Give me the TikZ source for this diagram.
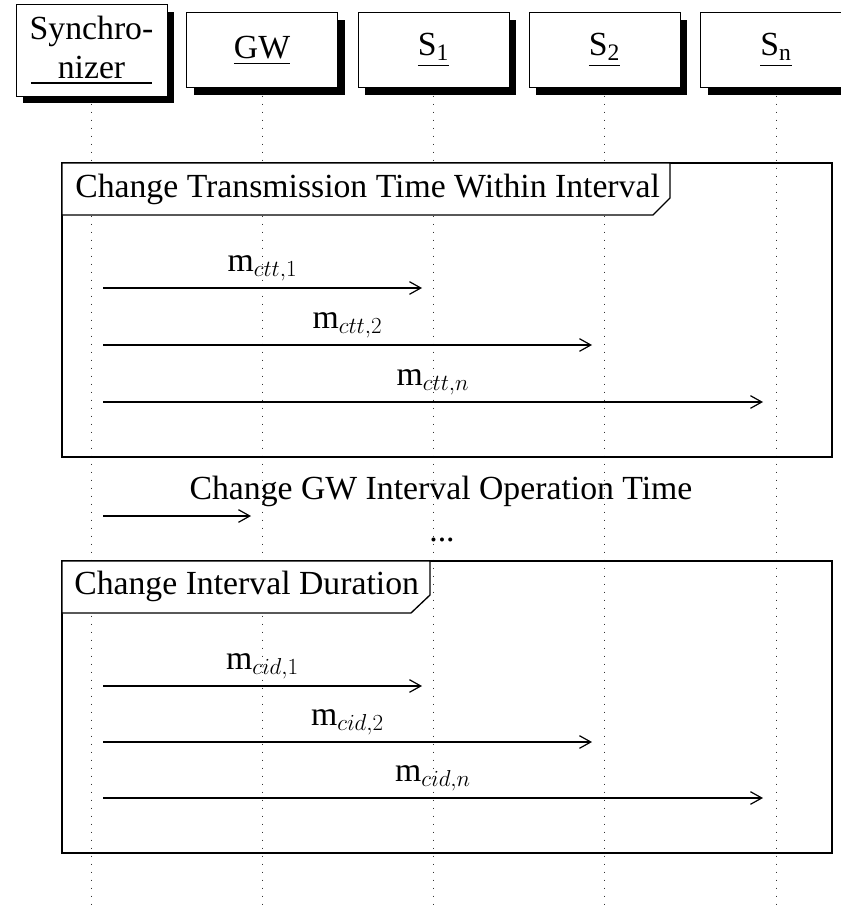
\documentclass[tikz,border=0pt]{standalone}
\usepackage{amsmath}
\usepackage{fontspec}
\setmainfont{Liberation Serif}
\usetikzlibrary{shadows,arrows.meta}

\tikzset{
  inst/.style={draw, fill=white, line width=0.75pt, minimum width=113.25pt, minimum height=56.25pt, align=center,
    drop shadow={shadow xshift=5.25pt, shadow yshift=-5.25pt, fill=black, opacity=1}},
  lifeline/.style={line width=0.6pt, dash pattern=on 0.6pt off 5.4pt, black!80},
  msg/.style={-{Straight Barb[length=8.5pt,width=9.5pt]}, line width=0.9pt},
  fragment/.style={line width=1pt},
}

\begin{document}
\begin{tikzpicture}[x=0.75pt,y=0.75pt,yscale=-1,xscale=1,font=\fontsize{25.3}{29}\selectfont]
    \useasboundingbox (0,0) rectangle (841,906);

    % Instances
    \node [inst, minimum height=68.25pt] (sync) at (91.5,50.5) {Synchro-\\\underline{\hbox to 91pt{\hfil nizer\hfil}}};
    \node [inst] (gw) at (262,50.5) {\underline{GW}};
    \node [inst] (s1) at (433.5,50.5) {\underline{S\textsubscript{1}}};
    \node [inst] (s2) at (604.5,50.5) {\underline{S\textsubscript{2}}};
    \node [inst] (sn) at (776,50.5) {\underline{S\textsubscript{n}}};

    % Lifelines
    \foreach \who in {sync,gw,s1,s2,sn}
      \draw [lifeline] (\who.south) ++(0,7) -- (\who.south |- 0,906);

    % Fragment: Change Transmission Time Within Interval
    \draw [fragment] (62,163) rectangle (832,457);
    \draw [fragment, fill=white] (62,163) -- (670,163) -- (670,198) -- (653,215) -- (62,215) -- cycle;
    \node [anchor=west, inner sep=0.75pt] (ctt) at (74,189) {Change Transmission Time Within Interval};

    \coordinate (ctt1a) at (103,288);  \coordinate (ctt1b) at (422,288);
    \coordinate (ctt2a) at (103,345);  \coordinate (ctt2b) at (592,345);
    \coordinate (cttna) at (103,402);  \coordinate (cttnb) at (763,402);
    \draw [msg] (ctt1a) -- node [above=4pt, inner sep=0.75pt] (lctt1) {m$_{ctt,1}$} (ctt1b);
    \draw [msg] (ctt2a) -- node [above=4pt, inner sep=0.75pt] (lctt2) {m$_{ctt,2}$} (ctt2b);
    \draw [msg] (cttna) -- node [above=4pt, inner sep=0.75pt] (lcttn) {m$_{ctt,n}$} (cttnb);

    % Change GW Interval Operation Time
    \node [inner sep=0.75pt] (gwop) at (441,491) {Change GW Interval Operation Time};
    \coordinate (gwopa) at (103,516);  \coordinate (gwopb) at (251,516);
    \draw [msg] (gwopa) -- (gwopb);
    \node [inner sep=0.75pt] (more) at (442,540) {...};

    % Fragment: Change Interval Duration
    \draw [fragment] (62,561) rectangle (832,853);
    \draw [fragment, fill=white] (62,561) -- (430,561) -- (430,595) -- (411,613) -- (62,613) -- cycle;
    \node [anchor=west, inner sep=0.75pt] (cid) at (73,586) {Change Interval Duration};

    \coordinate (cid1a) at (103,686);  \coordinate (cid1b) at (422,686);
    \coordinate (cid2a) at (103,742);  \coordinate (cid2b) at (592,742);
    \coordinate (cidna) at (103,798);  \coordinate (cidnb) at (763,798);
    \draw [msg] (cid1a) -- node [above=4pt, inner sep=0.75pt] (lcid1) {m$_{cid,1}$} (cid1b);
    \draw [msg] (cid2a) -- node [above=4pt, inner sep=0.75pt] (lcid2) {m$_{cid,2}$} (cid2b);
    \draw [msg] (cidna) -- node [above=4pt, inner sep=0.75pt] (lcidn) {m$_{cid,n}$} (cidnb);

\end{tikzpicture}
\end{document}
